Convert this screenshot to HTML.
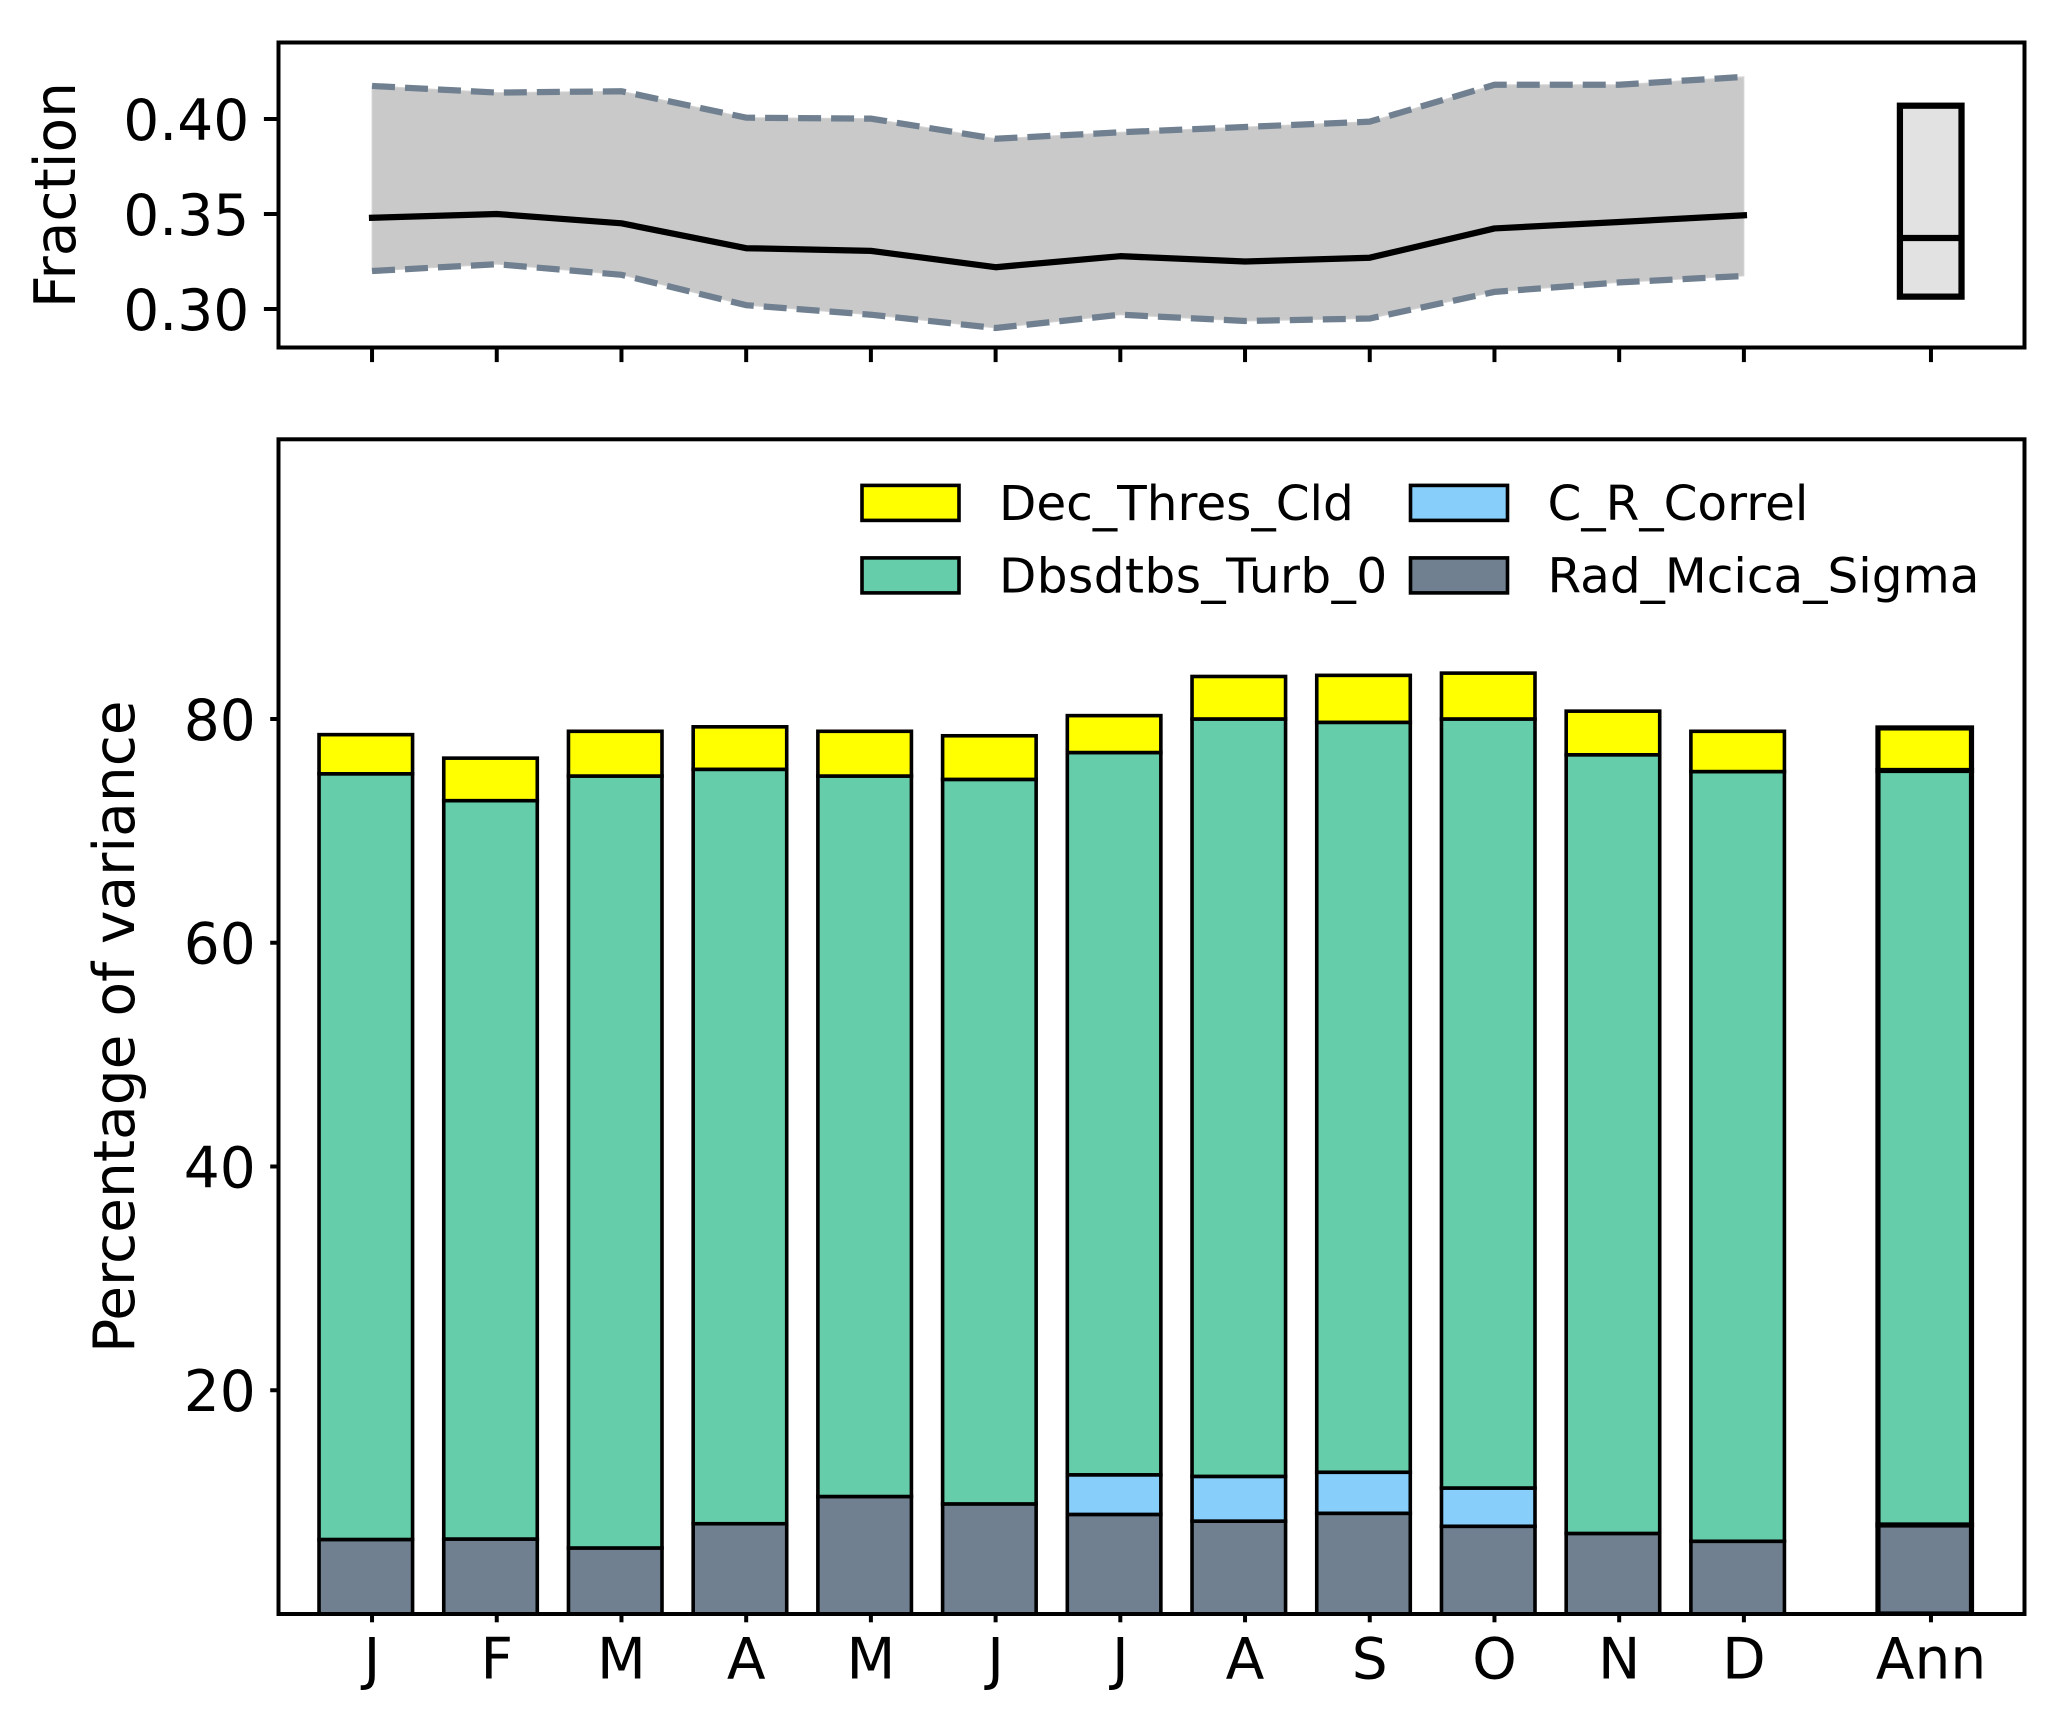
<!DOCTYPE html>
<html lang="en">
<head>
<meta charset="utf-8">
<title>Percentage of variance by month</title>
<style>
html,body{margin:0;padding:0;background:#fff;}
svg{display:block;}
text{font-family:"DejaVu Sans","Liberation Sans",sans-serif;fill:#000;}
</style>
</head>
<body>
<svg id="chart" xmlns="http://www.w3.org/2000/svg" width="2067" height="1720" viewBox="0 0 2067 1720"></svg>
<script>
const months = ['J','F','M','A','M','J','J','A','S','O','N','D'];
const annLabel = 'Ann';
const fracTicks = [0.30, 0.35, 0.40];
const fracTickLabels = ['0.30', '0.35', '0.40'];
const varTicks = [20, 40, 60, 80];
const varTickLabels = ['20', '40', '60', '80'];
const fracUpper = [0.4174,0.4139,0.4146,0.4007,0.4002,0.3896,0.393,0.3958,0.3986,0.418,0.418,0.4222];
const fracLower = [0.320,0.3236,0.318,0.302,0.297,0.290,0.297,0.2937,0.295,0.309,0.314,0.3174];
const fracMedian = [0.348,0.350,0.3451,0.332,0.3306,0.322,0.3278,0.325,0.327,0.3424,0.3458,0.3493];
const annBoxTop = 0.407;
const annBoxBottom = 0.3065;
const annBoxMedian = 0.3374;
const radMcicaSigma = [6.66,6.7,5.9,8.07,10.5,9.84,8.9,8.3,9.0,7.84,7.2,6.5];
const cRCorrel = [0,0,0,0,0,0,3.54,4.0,3.67,3.42,0,0];
const dbsdtbsTurb0 = [68.44,66.0,69.0,67.43,64.4,64.76,64.56,67.7,67.03,68.74,69.6,68.8];
const decThresCld = [3.5,3.8,4.0,3.8,4.0,3.9,3.3,3.8,4.2,4.1,3.9,3.6];
const annStack = [7.96,0,67.44,3.8];
const seriesNames = ['Rad_Mcica_Sigma','C_R_Correl','Dbsdtbs_Turb_0','Dec_Thres_Cld'];
const seriesColors = ['#708090','#87cefa','#66cdaa','#ffff00'];

const NS = 'http://www.w3.org/2000/svg';
const svg = document.getElementById('chart');
const FS = 56.6, LFS = 48.5, SP = 4, TOP_TICK = 14.6, MAIN_TICK = 8.3;
const axL = 278.5, axR = 2024.5;
const topT = 42.5, topB = 347.5;
const mainT = 439.3, mainB = 1614;
const ANN_X = 12.5, BAR_OFF = -0.05, BAR_W = 0.75;

function xS(v){ return axL + (v + 0.75) / 14 * (axR - axL); }
function yFrac(v){ return 119 + (0.40 - v) * 1900; }
function yVar(v){ return mainB - v / 105 * (mainB - mainT); }

function mk(tag, parent, props){
  const el = document.createElementNS(NS, tag);
  for (const k in props) el.setAttribute(k, props[k]);
  parent.appendChild(el);
  return el;
}
function group(parent){ return mk('g', parent, {}); }

const defs = mk('defs', svg, {});
const clip = mk('clipPath', defs, {id:'main-clip'});
mk('rect', clip, {x:axL, y:mainT, width:axR-axL, height:mainB-mainT});

/* ---------- top axes ---------- */
const topAxes = group(svg);



const bandPts = fracUpper.map((v,i)=>xS(i)+','+yFrac(v))
  .concat(fracLower.map((v,i)=>xS(i)+','+yFrac(v)).reverse()).join(' ');
const band = mk('polygon', topAxes, {points:bandPts, fill:'#c9c9c9', stroke:'#d6d6d6', 'stroke-width':1});



function linePts(arr){ return arr.map((v,i)=>xS(i)+','+yFrac(v)).join(' '); }
const upperLine = mk('polyline', topAxes, {points:linePts(fracUpper), fill:'none', stroke:'#708090', 'stroke-width':6.25, 'stroke-dasharray':'23 10'});


const lowerLine = mk('polyline', topAxes, {points:linePts(fracLower), fill:'none', stroke:'#708090', 'stroke-width':6.25, 'stroke-dasharray':'23 10'});


const medianLine = mk('polyline', topAxes, {points:linePts(fracMedian), fill:'none', stroke:'#000', 'stroke-width':6.25, 'stroke-linecap':'square', 'stroke-linejoin':'round'});



const boxW = 0.49;
const annBox = mk('rect', topAxes, {x:xS(ANN_X-boxW/2)-0.5, y:yFrac(annBoxTop), width:xS(ANN_X+boxW/2)-xS(ANN_X-boxW/2)+0.5, height:yFrac(annBoxBottom)-yFrac(annBoxTop), fill:'#e2e2e2', stroke:'#000', 'stroke-width':6.25});


const annMed = mk('line', topAxes, {x1:xS(ANN_X-boxW/2), x2:xS(ANN_X+boxW/2), y1:yFrac(annBoxMedian), y2:yFrac(annBoxMedian), stroke:'#000', 'stroke-width':6.25});



fracTicks.forEach((t,i)=>{
  const y = yFrac(t);
  const tk = mk('line', topAxes, {x1:axL-TOP_TICK, x2:axL, y1:y, y2:y, stroke:'#000', 'stroke-width':SP});
  
  
  const lb = mk('text', topAxes, {x:axL-TOP_TICK-14.6, y:y+20.8, 'text-anchor':'end', 'font-size':FS});
  lb.textContent = fracTickLabels[i];
  
  
});
months.concat([annLabel]).forEach((m,i)=>{
  const x = xS(i < months.length ? i : ANN_X);
  const tk = mk('line', topAxes, {x1:x, x2:x, y1:topB, y2:topB+TOP_TICK, stroke:'#000', 'stroke-width':SP});
  
  
});
const topFrame = mk('rect', topAxes, {x:axL, y:topT, width:axR-axL, height:topB-topT, fill:'none', stroke:'#000', 'stroke-width':SP});


const fracTitle = mk('text', topAxes, {transform:'translate(75,'+((topT+topB)/2)+') rotate(-90)', 'text-anchor':'middle', 'font-size':FS});
fracTitle.textContent = 'Fraction';



/* ---------- main axes ---------- */
const mainAxes = group(svg);


const barLayer = mk('g', mainAxes, {'clip-path':'url(#main-clip)'});



function drawStack(pos, vals, sw){
  let base = 0;
  vals.forEach((v,s)=>{
    if (v > 0) {
      const x0 = xS(pos + BAR_OFF - BAR_W/2), x1 = xS(pos + BAR_OFF + BAR_W/2);
      const r = mk('rect', barLayer, {x:x0, y:yVar(base+v), width:x1-x0, height:yVar(base)-yVar(base+v), fill:seriesColors[s], stroke:'#000', 'stroke-width':sw});
      
      
      base += v;
    }
  });
}
months.forEach((m,i)=>{
  drawStack(i, [radMcicaSigma[i], cRCorrel[i], dbsdtbsTurb0[i], decThresCld[i]], 3.6);
});
drawStack(ANN_X, annStack, 5.2);

varTicks.forEach((t,i)=>{
  const y = yVar(t);
  const tk = mk('line', mainAxes, {x1:axL-MAIN_TICK, x2:axL, y1:y, y2:y, stroke:'#000', 'stroke-width':SP});
  
  
  const lb = mk('text', mainAxes, {x:axL-MAIN_TICK-14.4, y:y+20.8, 'text-anchor':'end', 'font-size':FS});
  lb.textContent = varTickLabels[i];
  
  
});
months.concat([annLabel]).forEach((m,i)=>{
  const x = xS(i < months.length ? i : ANN_X);
  const tk = mk('line', mainAxes, {x1:x, x2:x, y1:mainB, y2:mainB+MAIN_TICK, stroke:'#000', 'stroke-width':SP});
  
  
  const lb = mk('text', mainAxes, {x:x, y:1678.5, 'text-anchor':'middle', 'font-size':FS});
  lb.textContent = m;
  
  
});
const mainFrame = mk('rect', mainAxes, {x:axL, y:mainT, width:axR-axL, height:mainB-mainT, fill:'none', stroke:'#000', 'stroke-width':SP});


const varTitle = mk('text', mainAxes, {transform:'translate(134,'+((mainT+mainB)/2)+') rotate(-90)', 'text-anchor':'middle', 'font-size':FS});
varTitle.textContent = 'Percentage of variance';



/* ---------- legend ---------- */
const legend = group(svg);


const legendOrder = [3, 2, 1, 0];
legendOrder.forEach((s,i)=>{
  const col = i < 2 ? 0 : 1, row = i % 2;
  const hx = col === 0 ? 862 : 1410.5;
  const hy = row === 0 ? 485.4 : 557.9;
  const entry = group(legend);
  
  
  const sw = mk('rect', entry, {x:hx, y:hy, width:97, height:35, fill:seriesColors[s], stroke:'#000', 'stroke-width':3.6});
  
  
  const tx = mk('text', entry, {x:hx+137, y:hy+34.8, 'font-size':LFS});
  if (s === 2) tx.setAttribute('letter-spacing', '0.45');
  tx.textContent = seriesNames[s];
  
  
});
</script>
</body>
</html>
